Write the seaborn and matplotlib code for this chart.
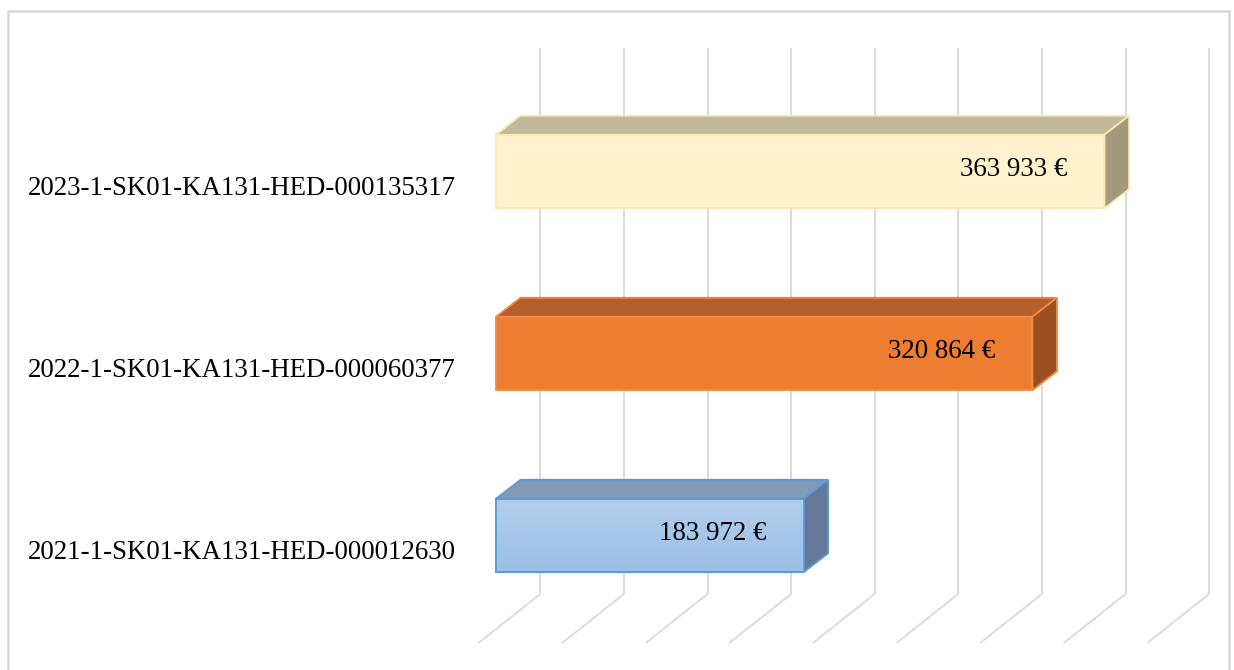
import numpy as np
import pandas as pd
import matplotlib
matplotlib.use('Agg')
import matplotlib.pyplot as plt
from matplotlib.patches import Polygon, Rectangle
import seaborn as sns

# data
projects = ['2023-1-SK01-KA131-HED-000135317',
            '2022-1-SK01-KA131-HED-000060377',
            '2021-1-SK01-KA131-HED-000012630']
amounts = [363933, 320864, 183972]
grid_ticks = [0, 50000, 100000, 150000, 200000, 250000, 300000, 350000, 400000]

front_colors = ['#FFF2CC', '#ED7D31', '#A7C6E9']
top_colors = ['#C2B89A', '#B5602A', '#8499B3']
side_colors = ['#A39A7E', '#9A5020', '#64799A']
edge_colors = ['#FBE7B0', '#F0894A', '#5B9BD5']

W, H = 1234, 670
PX_PER_UNIT = 83.6 / 50000      # horizontal pixels per euro
ROW_PX = 182                    # pixels between bars
X0_PX, Y0_PX = 496, 171.5       # front face origin of first bar


def px_dx(p):
    return p / PX_PER_UNIT


def px_dy(p):
    return p / ROW_PX


sns.set_theme(style='white')
plt.rcParams['font.family'] = ['Liberation Serif', 'DejaVu Serif']

df = pd.DataFrame({'project': projects, 'amount': amounts})

fig = plt.figure(figsize=(W / 100, H / 100), dpi=100)
ax = fig.add_axes([0, 0, 1, 1])
sns.barplot(data=df, y='project', x='amount', hue='project', palette=front_colors,
            saturation=1, orient='h', width=73.5 / ROW_PX, legend=False, ax=ax, zorder=3)

ax.set_xlim(px_dx(-X0_PX), px_dx(W - X0_PX))
ax.set_ylim(px_dy(H - Y0_PX), px_dy(-Y0_PX))
ax.axis('off')

# 3D-ish geometry (pixel offsets converted to data units)
bar_dx, bar_dy = px_dx(24.5), px_dy(-19)
wall_dx = px_dx(44.3)
floor_dx = px_dx(-17.5)
wall_top, wall_bot, floor_front = px_dy(48 - Y0_PX), px_dy(594 - Y0_PX), px_dy(643 - Y0_PX)

grid_kw = dict(color='#DCDCDC', lw=1.4, zorder=1, solid_capstyle='butt')
for t in grid_ticks:
    ax.plot([t + wall_dx, t + wall_dx], [wall_top, wall_bot], **grid_kw)
    ax.plot([t + wall_dx, t + floor_dx], [wall_bot, floor_front], **grid_kw)

for i, bar in enumerate(ax.patches):
    x0, x1 = bar.get_x(), bar.get_x() + bar.get_width()
    ytop, ybot = bar.get_y(), bar.get_y() + bar.get_height()
    bar.set_edgecolor(edge_colors[i])
    bar.set_linewidth(1.3)
    top = Polygon([(x0, ytop), (x0 + bar_dx, ytop + bar_dy), (x1 + bar_dx, ytop + bar_dy), (x1, ytop)],
                  closed=True, facecolor=top_colors[i], edgecolor=edge_colors[i], lw=1.3, zorder=3)
    side = Polygon([(x1, ytop), (x1 + bar_dx, ytop + bar_dy), (x1 + bar_dx, ybot + bar_dy), (x1, ybot)],
                   closed=True, facecolor=side_colors[i], edgecolor=edge_colors[i], lw=1.3, zorder=3)
    ax.add_patch(top)
    ax.add_patch(side)
    if i == 2:
        # soft vertical gradient on the blue bar
        grad = np.linspace(0, 1, 100).reshape(-1, 1)
        cmap = matplotlib.colors.LinearSegmentedColormap.from_list('b', ['#B3CEEC', '#9BBFE6'])
        im = ax.imshow(grad, cmap=cmap, aspect='auto', extent=(x0, x1, ybot, ytop), zorder=3.5)
        im.set_clip_path(bar)
        edge = Rectangle((x0, ytop), x1 - x0, ybot - ytop, fill=False,
                         edgecolor=edge_colors[i], lw=1.3, zorder=3.6)
        ax.add_patch(edge)
    label = f'{amounts[i]:,}'.replace(',', ' ') + ' €'
    ax.text(x1 - px_dx(37), (ytop + ybot) / 2 - px_dy(2), label, ha='right', va='center',
            fontsize=19.4, color='black', zorder=5)
    ax.text(px_dx(456 - X0_PX), (ytop + ybot) / 2 + px_dy(17), projects[i], ha='right', va='center',
            fontsize=19.4, color='black', zorder=5)

# chart area border
fig.patches.append(Rectangle((8 / W, -2 / H), (1229 - 8) / W, (H - 11 + 2) / H,
                             transform=fig.transFigure, fill=False, edgecolor='#D9D9D9', lw=1.8))

fig.savefig('out.png', dpi=100)
